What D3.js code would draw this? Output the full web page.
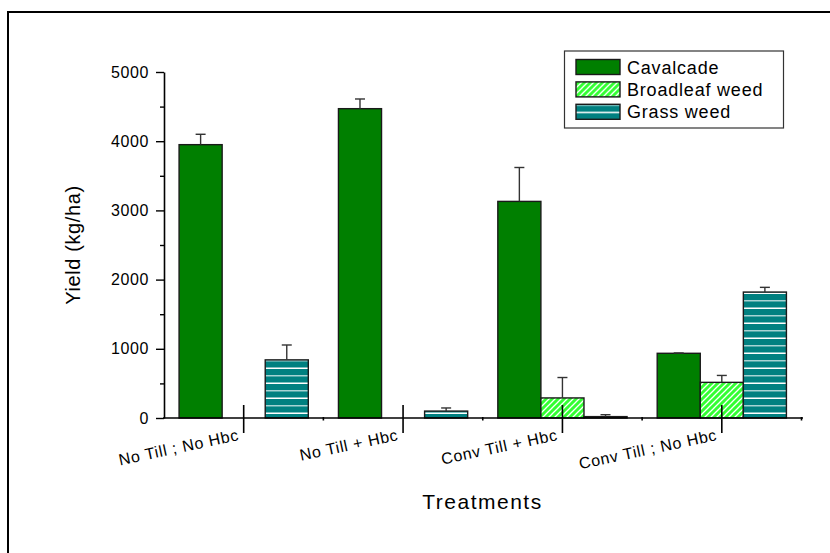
<!DOCTYPE html>
<html>
<head>
<meta charset="utf-8">
<script src="https://cdn.jsdelivr.net/npm/d3@7"></script>
<style>
  html, body { margin: 0; padding: 0; background: #fff; }
  svg { display: block; font-family: "Liberation Sans", Arial, sans-serif; }
</style>
</head>
<body>
<svg id="chart" width="830" height="553"></svg>
<script>
// Treatment groups and yield series (kg/ha)
const categories = ["No Till ; No Hbc", "No Till + Hbc", "Conv Till + Hbc", "Conv Till ; No Hbc"];
const seriesNames = ["Cavalcade", "Broadleaf weed", "Grass weed"];
const cavalcade = [3950, 4470, 3130, 935];
const broadleaf = [0, 0, 290, 515];
const grass = [840, 100, 20, 1820];
// Upper error bar lengths
const cavalcadeErr = [150, 140, 490, 5];
const broadleafErr = [0, 0, 295, 100];
const grassErr = [215, 45, 28, 68];
const yMajorTicks = [0, 1000, 2000, 3000, 4000, 5000];
const yMinorTicks = [500, 1500, 2500, 3500, 4500];

const seriesValues = [cavalcade, broadleaf, grass];
const seriesErrors = [cavalcadeErr, broadleafErr, grassErr];
const fills = ["#007f00", "url(#hatchBroad)", "url(#stripeGrass)"];

const svg = d3.select("#chart");

// Fill patterns
const defs = svg.append("defs");
const hatch = defs.append("pattern")
  .attr("id", "hatchBroad")
  .attr("patternUnits", "userSpaceOnUse")
  .attr("width", 6).attr("height", 6);
hatch.append("rect").attr("width", 6).attr("height", 6).attr("fill", "#33ff33");
hatch.append("path")
  .attr("d", "M-1,7 L7,-1 M-4,4 L4,-4 M2,10 L10,2")
  .attr("stroke", "#ffffff").attr("stroke-width", 1.3);

const stripe = defs.append("pattern")
  .attr("id", "stripeGrass")
  .attr("patternUnits", "userSpaceOnUse")
  .attr("width", 10).attr("height", 15);
stripe.append("rect").attr("width", 10).attr("height", 15).attr("fill", "#008080");
stripe.append("rect").attr("y", 0).attr("width", 10).attr("height", 1.5).attr("fill", "#a6d3d3");
stripe.append("rect").attr("y", 7.5).attr("width", 10).attr("height", 1.5).attr("fill", "#ffffff");

// Outer frame
svg.append("rect")
  .attr("x", 8).attr("y", 12).attr("width", 900).attr("height", 600)
  .attr("fill", "none").attr("stroke", "#000").attr("stroke-width", 2);

// Scales
const x0 = d3.scaleBand().domain(categories).range([164, 801.5]);
const x1 = d3.scaleBand().domain(seriesNames).range([0, x0.bandwidth()]).paddingOuter(0.35);
const y = d3.scaleLinear().domain([0, 5000]).range([418, 72]);

// Bars
const rows = [];
categories.forEach((c, i) => {
  seriesNames.forEach((s, j) => {
    rows.push({ cat: c, ser: s, j, v: seriesValues[j][i], e: seriesErrors[j][i] });
  });
});

const plot = svg.append("g");
plot.selectAll("rect.bar")
  .data(rows.filter(d => d.v > 0))
  .join("rect")
  .attr("class", "bar")
  .attr("x", d => x0(d.cat) + x1(d.ser))
  .attr("y", d => y(d.v))
  .attr("width", x1.bandwidth())
  .attr("height", d => y(0) - y(d.v))
  .attr("fill", d => fills[d.j])
  .attr("stroke", "#1a1a1a")
  .attr("stroke-width", 1.4);

// Upper error bars
const errRows = rows.filter(d => d.v > 0 && d.e > 0);
const eg = plot.append("g").attr("stroke", "#333").attr("stroke-width", 1.4);
eg.selectAll("line.stem")
  .data(errRows)
  .join("line")
  .attr("x1", d => x0(d.cat) + x1(d.ser) + x1.bandwidth() / 2)
  .attr("x2", d => x0(d.cat) + x1(d.ser) + x1.bandwidth() / 2)
  .attr("y1", d => y(d.v))
  .attr("y2", d => y(d.v + d.e));
eg.selectAll("line.cap")
  .data(errRows)
  .join("line")
  .attr("x1", d => x0(d.cat) + x1(d.ser) + x1.bandwidth() / 2 - 5)
  .attr("x2", d => x0(d.cat) + x1(d.ser) + x1.bandwidth() / 2 + 5)
  .attr("y1", d => y(d.v + d.e))
  .attr("y2", d => y(d.v + d.e));

// Y axis
const yAxis = svg.append("g")
  .attr("transform", "translate(164,0)")
  .call(d3.axisLeft(y).tickValues(yMajorTicks).tickSize(8).tickSizeOuter(0).tickPadding(7)
    .tickFormat(d3.format("d")));
yAxis.select(".domain").attr("stroke", "#000").attr("stroke-width", 1.6);
yAxis.selectAll(".tick line").attr("stroke", "#000").attr("stroke-width", 1.4);
yAxis.selectAll(".tick text")
  .attr("font-size", 16).attr("letter-spacing", 0.6)
  .attr("fill", "#000").attr("font-family", "Liberation Sans, Arial, sans-serif");
const yMinor = svg.append("g")
  .attr("transform", "translate(164,0)")
  .call(d3.axisLeft(y).tickValues(yMinorTicks).tickSize(4).tickSizeOuter(0).tickFormat(""));
yMinor.select(".domain").remove();
yMinor.selectAll(".tick line").attr("stroke", "#000").attr("stroke-width", 1.4);

// X axis
const xg = svg.append("g");
xg.append("line")
  .attr("x1", 163).attr("x2", 803)
  .attr("y1", y(0)).attr("y2", y(0))
  .attr("stroke", "#000").attr("stroke-width", 1.6);
xg.selectAll("line.major")
  .data(categories)
  .join("line")
  .attr("x1", d => x0(d) + x0.bandwidth() / 2)
  .attr("x2", d => x0(d) + x0.bandwidth() / 2)
  .attr("y1", y(0) - 13).attr("y2", y(0) + 15)
  .attr("stroke", "#000").attr("stroke-width", 1.6);
xg.selectAll("line.minor")
  .data(categories.slice(1).concat(["end"]))
  .join("line")
  .attr("x1", (d, i) => 164 + (i + 1) * x0.step())
  .attr("x2", (d, i) => 164 + (i + 1) * x0.step())
  .attr("y1", y(0) - 1).attr("y2", y(0) + 2.5)
  .attr("stroke", "#000").attr("stroke-width", 1.6);
xg.selectAll("text.cat")
  .data(categories)
  .join("text")
  .attr("transform", d => `translate(${x0(d) + x0.bandwidth() / 2 - 4},${y(0) + 22}) rotate(-12)`)
  .attr("text-anchor", "end")
  .attr("font-size", 16).attr("letter-spacing", 0.7)
  .attr("fill", "#000")
  .text(d => d);

// Axis titles
svg.append("text")
  .attr("transform", "translate(80,245) rotate(-90)")
  .attr("text-anchor", "middle")
  .attr("font-size", 20).attr("letter-spacing", 0.6)
  .text("Yield (kg/ha)");
svg.append("text")
  .attr("x", 482.5).attr("y", 509)
  .attr("text-anchor", "middle")
  .attr("font-size", 21).attr("letter-spacing", 1.5)
  .text("Treatments");

// Legend
const legend = svg.append("g");
legend.append("rect")
  .attr("x", 564.5).attr("y", 51).attr("width", 219).attr("height", 77)
  .attr("fill", "#fff").attr("stroke", "#333").attr("stroke-width", 1.2);
const items = legend.selectAll("g.item")
  .data(seriesNames)
  .join("g")
  .attr("transform", (d, i) => `translate(576,${59.5 + i * 22.4})`);
items.append("rect")
  .attr("width", 44).attr("height", 15)
  .attr("fill", (d, i) => fills[i])
  .attr("stroke", "#1a1a1a").attr("stroke-width", 1.4);
items.append("text")
  .attr("x", 51).attr("y", 14)
  .attr("font-size", 18).attr("letter-spacing", 0.8)
  .attr("fill", "#000")
  .text(d => d);
</script>
</body>
</html>
